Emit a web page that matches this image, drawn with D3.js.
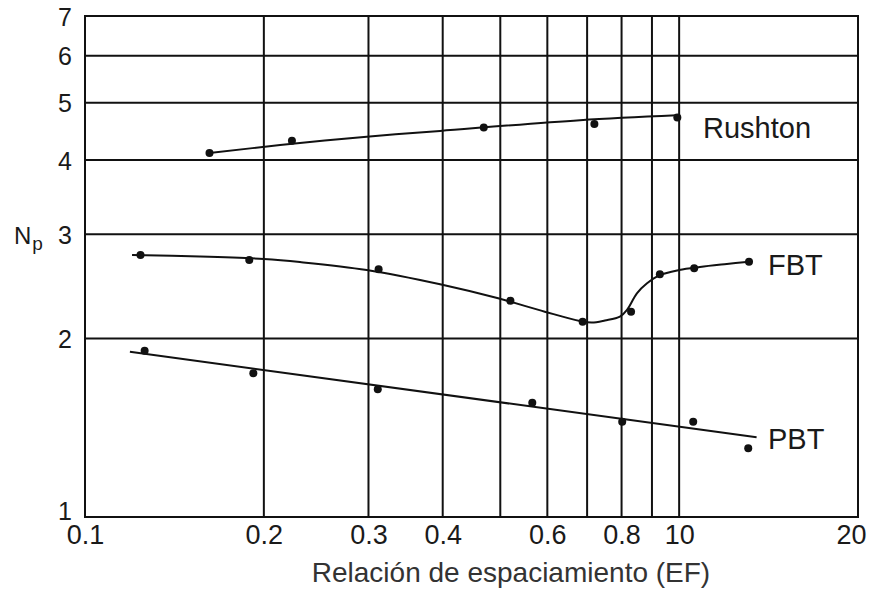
<!DOCTYPE html>
<html>
<head>
<meta charset="utf-8">
<script src="https://cdn.jsdelivr.net/npm/d3@7/dist/d3.min.js"></script>
<style>
  html, body { margin: 0; padding: 0; background: #fff; }
  svg { display: block; }
  text { font-family: "Liberation Sans", Arial, Helvetica, sans-serif; }
</style>
</head>
<body>
<svg id="chart" width="873" height="590"></svg>
<script>
// Power number Np versus spacing ratio (EF), log-log axes.

// Axis ticks and grid
const xTickValues = [0.1, 0.2, 0.3, 0.4, 0.6, 0.8, 1.0, 2.0];
const xTickLabels = ["0.1", "0.2", "0.3", "0.4", "0.6", "0.8", "10", "20"];
const xGridValues = [0.1, 0.2, 0.3, 0.4, 0.5, 0.6, 0.7, 0.8, 0.9, 1.0, 2.0];
const yTickValues = [1, 2, 3, 4, 5, 6, 7];
const yTickLabels = ["1", "2", "3", "4", "5", "6", "7"];

// Rushton impeller: measured points and fitted curve
const rushtonPoints = [
  [0.162, 4.11], [0.223, 4.31], [0.469, 4.54], [0.72, 4.60], [0.993, 4.72]
];
const rushtonCurve = [
  [0.162, 4.11], [0.213, 4.24], [0.298, 4.38], [0.396, 4.48], [0.681, 4.67], [0.99, 4.76]
];

// FBT impeller: measured points and fitted curve
const fbtPoints = [
  [0.124, 2.767], [0.189, 2.714], [0.312, 2.617], [0.520, 2.317], [0.688, 2.135],
  [0.830, 2.220], [0.928, 2.567], [1.06, 2.628], [1.311, 2.696]
];
const fbtCurve = [
  [0.120, 2.767], [0.156, 2.751], [0.200, 2.724], [0.230, 2.692], [0.298, 2.610],
  [0.396, 2.469], [0.496, 2.338], [0.594, 2.220], [0.681, 2.141], [0.713, 2.128],
  [0.750, 2.145], [0.795, 2.177], [0.817, 2.235], [0.849, 2.384], [0.883, 2.479],
  [0.928, 2.559], [1.0, 2.610], [1.084, 2.641], [1.203, 2.672], [1.311, 2.696]
];

// PBT impeller: measured points and fitted line
const pbtPoints = [
  [0.126, 1.908], [0.192, 1.748], [0.311, 1.642], [0.566, 1.559],
  [0.802, 1.448], [1.056, 1.448], [1.307, 1.306]
];
const pbtCurve = [
  [0.119, 1.900], [1.350, 1.363]
];

const seriesLabels = ["Rushton", "FBT", "PBT"];
const xTitle = "Relación de espaciamiento (EF)";

// Layout
const W = 873, H = 590;
const margin = { left: 85, right: 15, top: 16, bottom: 73 };

const svg = d3.select("#chart");

const x = d3.scaleLog().domain([0.1, 2]).range([margin.left, W - margin.right]);
const y = d3.scaleLog().domain([1, 7]).range([H - margin.bottom, margin.top]);

const ink = "#111";

// Grid
const grid = svg.append("g").attr("stroke", ink).attr("stroke-width", 2);
grid.selectAll("line.v").data(xGridValues).join("line")
  .attr("class", "v")
  .attr("x1", d => x(d)).attr("x2", d => x(d))
  .attr("y1", y(7)).attr("y2", y(1));
grid.selectAll("line.h").data(yTickValues).join("line")
  .attr("class", "h")
  .attr("x1", x(0.1) - 1).attr("x2", x(2) + 1)
  .attr("y1", d => y(d)).attr("y2", d => y(d));

// X axis labels
const xAxis = d3.axisBottom(x)
  .tickValues(xTickValues)
  .tickFormat((d, i) => xTickLabels[i])
  .tickSize(0)
  .tickPadding(8);
const gx = svg.append("g")
  .attr("transform", `translate(0,${y(1)})`)
  .call(xAxis);
gx.select(".domain").remove();
gx.selectAll("text")
  .attr("fill", "#1a1a1a")
  .style("font-size", "27px")
  .attr("dy", "0.72em")
  .attr("dx", (d, i) => i === xTickValues.length - 1 ? -7 : 0);

// Y axis labels
const yAxis = d3.axisLeft(y)
  .tickValues(yTickValues)
  .tickFormat((d, i) => yTickLabels[i])
  .tickSize(0)
  .tickPadding(13);
const gy = svg.append("g")
  .attr("transform", `translate(${x(0.1)},0)`)
  .call(yAxis);
gy.select(".domain").remove();
gy.selectAll("text")
  .attr("fill", "#1a1a1a")
  .style("font-size", "25px")
  .attr("dy", d => d === 1 ? "0.08em" : "0.36em");

// Y axis title: N with subscript p
const yTitle = svg.append("text")
  .attr("x", 14).attr("y", 244)
  .attr("fill", "#1a1a1a")
  .style("font-size", "24px");
yTitle.append("tspan").text("N");
yTitle.append("tspan").attr("dx", 1).attr("dy", 6).style("font-size", "19px").text("p");

// X axis title
svg.append("text")
  .attr("x", (310 + 712) / 2).attr("y", 582)
  .attr("text-anchor", "middle")
  .attr("fill", "#333")
  .style("font-size", "28px")
  .text(xTitle);

// Curves and points
const line = d3.line().x(d => x(d[0])).y(d => y(d[1]));

const series = [
  { curve: rushtonCurve, points: rushtonPoints, shape: d3.curveCatmullRom.alpha(0.5) },
  { curve: fbtCurve, points: fbtPoints, shape: d3.curveCatmullRom.alpha(0.5) },
  { curve: pbtCurve, points: pbtPoints, shape: d3.curveLinear }
];

series.forEach(s => {
  svg.append("path")
    .datum(s.curve)
    .attr("fill", "none")
    .attr("stroke", ink)
    .attr("stroke-width", 2)
    .attr("d", line.curve(s.shape));
  svg.append("g").selectAll("circle").data(s.points).join("circle")
    .attr("cx", d => x(d[0]))
    .attr("cy", d => y(d[1]))
    .attr("r", 4)
    .attr("fill", ink);
});

// Series labels
const labelPos = [[703, 138], [768, 275], [768, 449]];
svg.append("g").selectAll("text").data(seriesLabels).join("text")
  .attr("x", (d, i) => labelPos[i][0])
  .attr("y", (d, i) => labelPos[i][1])
  .attr("fill", "#1a1a1a")
  .style("font-size", "29px")
  .text(d => d);
</script>
</body>
</html>
